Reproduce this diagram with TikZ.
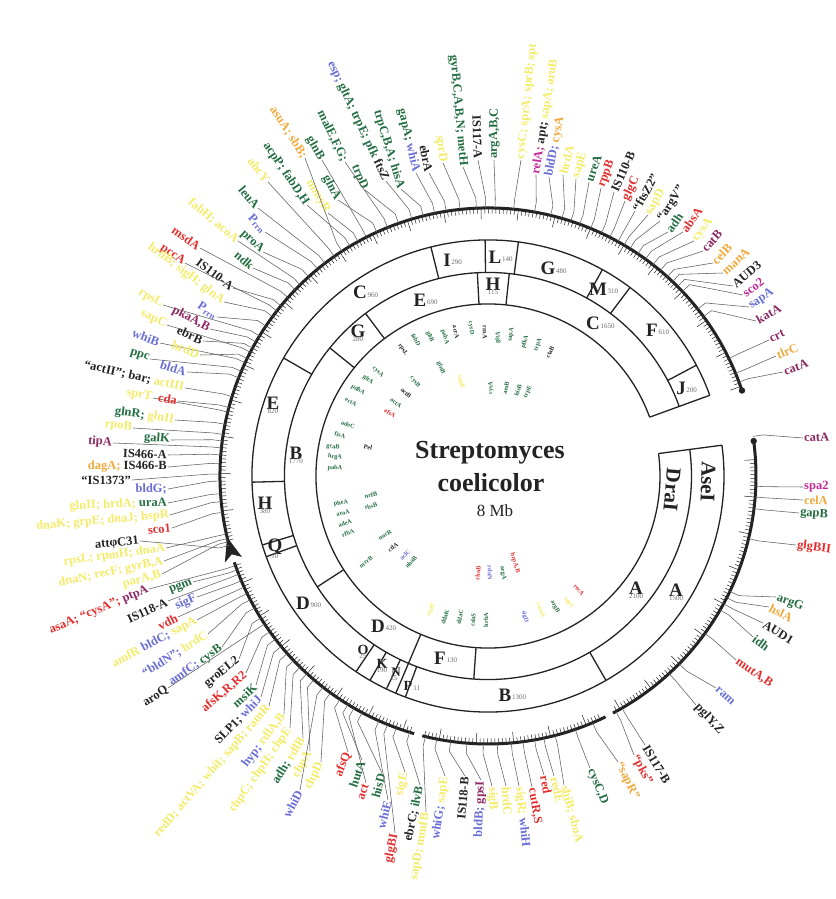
\documentclass[tikz,border=0pt]{standalone}
\usepackage{fontspec}
\setmainfont{Liberation Serif}
\usetikzlibrary{calc}
\definecolor{gg}{RGB}{35,110,65}
\definecolor{gb}{RGB}{105,110,215}
\definecolor{gr}{RGB}{230,45,45}
\definecolor{gp}{RGB}{140,40,100}
\definecolor{gm}{RGB}{195,40,150}
\definecolor{go}{RGB}{240,170,60}
\definecolor{gy}{RGB}{244,236,105}
\definecolor{gk}{RGB}{35,35,35}
\definecolor{gl}{RGB}{95,95,95}
\newcommand\kG[1]{\textcolor{gg}{#1}}
\newcommand\kB[1]{\textcolor{gb}{#1}}
\newcommand\kR[1]{\textcolor{gr}{#1}}
\newcommand\kP[1]{\textcolor{gp}{#1}}
\newcommand\kM[1]{\textcolor{gm}{#1}}
\newcommand\kO[1]{\textcolor{go}{#1}}
\newcommand\kY[1]{\textcolor{gy}{#1}}
\newcounter{gn}
\newcommand\glab[6]{%
 \stepcounter{gn}%
 \node[lbl,rotate=#3,anchor=#4] (g\arabic{gn}) at ({#1-488},{476-#2}) {#6};%
 \coordinate (c\arabic{gn}) at (#5:268);%
 \coordinate (d\arabic{gn}) at (#5:278);%
 \draw[leader] (c\arabic{gn}) -- (d\arabic{gn}) -- (g\arabic{gn}.#4);%
}
\newcommand\RL[6]{%
 \node[rlet] (#1) at ({#2-488},{476-#3}) {#4};%
 \if r#6\node[rnum,anchor=south west] (#1n) at ([xshift=-0.5pt,yshift=1.5pt]#1.south east) {#5};%
 \else\node[rnum,anchor=north] (#1n) at ([yshift=2pt]#1.south) {#5};\fi}
\tikzset{
 lbl/.style={font=\bfseries\fontsize{12.5}{12.5}\selectfont,inner sep=1pt,text=gk},
 leader/.style={draw=gl,line width=0.55pt},
 ring/.style={draw=gk,line width=1.3pt},
 thk/.style={draw=gk,line width=3pt},
 tick/.style={draw=gk,line width=0.5pt},
 rlet/.style={font=\bfseries\fontsize{19}{19}\selectfont,inner sep=0.5pt,text=gk},
 rnum/.style={font=\fontsize{7}{7}\selectfont,inner sep=0.3pt,text=gray!85!black},
 inl/.style={font=\bfseries\fontsize{6.3}{6.5}\selectfont,inner sep=0.4pt},
}
\begin{document}
\begin{tikzpicture}[x=1pt,y=1pt]
\useasboundingbox (-488,-423) rectangle (347,476);
\fill[white] (-488,-423) rectangle (347,476);

% ---------- rings ----------
\draw[ring] (20:236) arc[start angle=20,end angle=367.5,radius=236];
\draw[ring] (20:203.5) arc[start angle=20,end angle=367.5,radius=203.5];
\draw[ring] (20:172) arc[start angle=20,end angle=367.5,radius=172];
\draw[ring] (20:172) -- (20:236);
\draw[ring] (7.5:172) -- (7.5:236);
\foreach \s in {28,53,61,82.6,90.7,104,150,181.5,197,200,236,240,244.5,247,249.5,300}
  \draw[ring] (\s:203.5) -- (\s:236);
\foreach \s in {84,93,127,141,213,247,266}
  \draw[ring] (\s:172) -- (\s:203.5);

% AseI ring labels
\RL{aJ}{681}{388}{J}{200}{r}
\RL{aF}{652}{330}{F}{610}{r}
\RL{aM}{598}{289}{M}{310}{r}
\RL{aG}{548}{268}{G}{480}{r}
\RL{aL}{495}{257}{L}{140}{r}
\RL{aI}{447}{260}{I}{290}{r}
\RL{aC}{360}{292}{C}{960}{r}
\RL{aE}{273}{403}{E}{820}{b}
\RL{aH}{265}{503}{H}{380}{b}
\RL{aQ}{275}{547}{Q}{10}{b}
\RL{aD}{303}{603}{D}{900}{r}
\node[rlet,font=\bfseries\fontsize{14}{14}\selectfont] (aO) at ({363-488},{476-650}) {O};
\node[rnum] (aOn) at ([yshift=-1pt]aO.south) {25};
\node[rlet,font=\bfseries\fontsize{14}{14}\selectfont] (aK) at ({382-488},{476-664}) {K};
\node[rnum] (aKn) at ([yshift=-1pt]aK.south) {190};
\node[rlet,font=\bfseries\fontsize{13}{13}\selectfont] (aN) at ({396-488},{476-672}) {N};
\node[rnum] (aNn) at ([yshift=-1pt,xshift=-2pt]aN.south) {25};
\node[rlet,font=\bfseries\fontsize{14}{14}\selectfont] (aP) at ({408-488},{476-686}) {P};
\node[rnum,anchor=south west] (aPn) at (aP.south east) {11};
\RL{aB}{505}{695}{B}{1300}{r}
\RL{aA}{676}{590}{A}{1500}{b}
% DraI ring labels
\RL{dC}{593}{323}{C}{1650}{r}
\RL{dH}{493}{284}{H}{115}{b}
\RL{dE}{420}{300}{E}{690}{r}
\RL{dG}{358}{331}{G}{280}{b}
\RL{dB}{296}{453}{B}{1770}{b}
\RL{dD}{378}{626}{D}{420}{r}
\RL{dF}{440}{658}{F}{130}{r}
\RL{dA}{636}{588}{A}{2100}{b}
\node[font=\bfseries\fontsize{21}{21}\selectfont,rotate=-92,text=gk] (ase) at ({708-488},{476-482}) {AseI};
\node[font=\bfseries\fontsize{21}{21}\selectfont,rotate=-95,text=gk] (dra) at ({672-488},{476-490}) {DraI};

% ---------- title ----------
\node[font=\bfseries\fontsize{26}{28}\selectfont,text=gk] (t1) at (2,23) {Streptomyces};
\node[font=\bfseries\fontsize{26}{28}\selectfont,text=gk] (t2) at (3,-7) {coelicolor};
\node[font=\fontsize{17}{18}\selectfont,text=gk] (t3) at (7,-35) {8 Mb};

% ---------- inner gene names ----------
\foreach \x/\y/\c/\t [count=\i] in {
 403/350/gk/rpsL,416/340/gg/fabD,430/337/gg/gltB,445/337/gg/pabA,456/332/gk/acrA,
 471/328/gg/cysD,485/332/gk/rrnA,498/338/gg/gltA,511/335/gg/sapA,525/342/gg/pfkA,
 538/345/gg/trpA,550/352/gk/ctaB,441/368/gg/glnB,461/382/gy/sapR,491/388/gg/cysA,
 506/388/gg/aroB,518/390/gg/hisB,528/392/gg/trpE,378/372/gg/cysA,368/380/gg/gltA,
 358/390/gg/pdhA,351/402/gg/ectA,415/382/gg/cysB,406/393/gk/actB,396/403/gg/actA,
 390/413/gr/afsA,348/425/gg/adeC,340/435/gg/fisA,333/447/gg/gcaB,368/447/gk/Pel,
 335/457/gg/hrgA,335/468/gg/pabA,371/495/gg/nrfB,371/506/gg/rbsB,341/503/gg/pheA,
 343/513/gg/aroA,345/523/gg/adeA,348/533/gg/rfbA,385/535/gg/nucR,393/547/gk/ctlA,
 405/555/gb/aclC,411/562/gg/nhaB,366/562/gg/mrrB,478/573/gr/rhoB,490/573/gb/rdnN,
 503/573/gg/argA,515/563/gr/{hrpA,B},431/610/gy/sapB,445/617/gg/ddaK,460/617/gg/ddaC,
 473/620/gg/cdaS,486/620/gg/hrbA,525/617/gb/sigD,541/610/gy/ramS,555/607/gg/argB,
 579/590/gr/recA,569/603/gy/sapC}{
 \pgfmathsetmacro\ph{atan2(476-\y,\x-488)}
 \pgfmathsetmacro\rr{(\x<488) ? \ph+180 : \ph}
 \node[inl,text=\c,rotate=\rr] (in\i) at ({\x-488},{476-\y}) {\t};
}

% ---------- outer thick circle ----------
\draw[thk] (18.6:268) arc[start angle=18.6,end angle=194.5,radius=268];
\draw[thk] (198.8:268) arc[start angle=198.8,end angle=254,radius=268];
\draw[thk] (255.8:268) arc[start angle=255.8,end angle=296,radius=268];
\draw[thk] (297.8:268) arc[start angle=297.8,end angle=367.5,radius=268];
\fill[gk] (18.6:268) circle (3.2);
\fill[gk] (7.5:268) circle (3.2);
\coordinate (att) at (195:268);
\fill[gk] (193.2:268) -- (198.2:277) -- (197:268) -- (198.2:259) -- cycle;
\foreach \i in {0,...,430}{
 \pgfmathsetmacro\ta{19.5+0.8*\i}
 \pgfmathtruncatemacro\ok{(((\ta>194)&&(\ta<199))||((\ta>253.5)&&(\ta<256))||((\ta>295.5)&&(\ta<298))) ? 0 : 1}
 \pgfmathtruncatemacro\lng{(mod(\i,10)==0) ? 1 : 0}
 \ifnum\ok=1
  \ifnum\lng=1 \draw[tick] (\ta:267) -- (\ta:257);
  \else \draw[tick] (\ta:267) -- (\ta:262.5); \fi
 \fi
}

% ---------- gene labels ----------
% right top (reading outward)
\glab{783}{372}{20}{west}{20.5}{\kP{catA}}
\glab{776}{356}{23}{west}{22.5}{\kO{tlrC}}
\glab{769}{340}{26}{west}{26}{\kP{crt}}
\glab{756}{321}{29}{west}{36.5}{\kP{katA}}
\glab{749}{307}{33}{west}{38.5}{\kB{sapA}}
\glab{743}{295}{36}{west}{43.5}{\kM{sco2}}
\glab{733}{286}{40}{west}{45}{AUD3}
\glab{723}{273}{43}{west}{46.5}{\kO{manA}}
\glab{713}{263}{46}{west}{48}{\kO{celB}}
\glab{703}{251}{48}{west}{50}{\kP{catB}}
\glab{694}{241}{51}{west}{52}{\kY{cysA}}
\glab{683}{232}{54}{west}{54}{\kR{absA}}
\glab{668}{232}{55}{west}{56}{\kG{adh}}
\glab{660}{221}{57}{west}{58}{``argV''}
\glab{648}{215}{59}{west}{59.5}{\kY{sapD}}
\glab{635}{211}{61}{west}{61}{``ftsZ2''}
\glab{625}{201}{64}{west}{63}{\kR{glgC}}
\glab{614}{192}{66}{west}{65}{IS110-B}
\glab{601}{188}{69}{west}{67.5}{\kR{rppB}}
\glab{589}{182}{71}{west}{70}{\kG{ureA}}
\glab{576}{179}{74}{west}{72}{\kY{sapE}}
\glab{563}{175}{76}{west}{74}{\kY{hrdA}}
\glab{549}{177}{79}{west}{76.5}{\kB{bldD;} \kO{cysA}}
\glab{536}{175}{81}{west}{80}{\kM{relA;} apt; \kY{sapA; aroB}}
\glab{521}{160}{84}{west}{84.5}{\kY{cysC; sprA; sprB; spt}}
\glab{494}{160}{89}{west}{88.5}{\kG{argA,B,C}}
% top left (reading inward)
\glab{478}{160}{-88}{east}{90.5}{IS117-A}
\glab{463}{167}{-85}{east}{92.5}{\kG{gyrB,C,A,B,N; metH}}
\glab{443}{163}{-82}{east}{96}{\kY{sprD}}
\glab{429}{173}{-79}{east}{99}{ebrA}
\glab{416}{173}{-77}{east}{101.5}{\kG{gapA;} \kB{whiA}}
\glab{401}{189}{-73}{east}{104}{\kG{trpC,B,A; hisA}}
\glab{386}{181}{-65}{east}{106.5}{\kB{esp;} \kG{gltA; trpE; pfk} ftsZ}
\glab{365}{190}{-67}{east}{109.5}{\kG{trpD}}
\glab{345}{162}{-64}{east}{112}{\kG{malE,F,G;}}
\glab{338}{200}{-62}{east}{114.5}{\kG{glnA}}
\glab{322}{160}{-60}{east}{117}{\kG{glnB}}
\glab{328}{213}{-59}{east}{119}{\kY{mmyR}}
\glab{307}{205}{-56}{east}{121}{\kG{acpP; fabD,H}}
\glab{305}{158}{-57}{east}{123}{\kO{asuA; sbB;}}
\glab{268}{182}{-53}{east}{125}{\kY{ahcY}}
\glab{258}{208}{-50}{east}{127.5}{\kG{leuA}}
\glab{265}{232}{-47}{east}{129.5}{\kB{P\textsubscript{rrn}}}
\glab{263}{252}{-44}{east}{132}{\kG{proA}}
\glab{238}{241}{-40}{east}{134.5}{\kY{fabH; acoA}}
\glab{253}{268}{-41}{east}{136}{\kG{ndk}}
\glab{200}{248}{-35}{east}{138.3}{\kR{msdA}}
\glab{233}{288}{-37}{east}{140.6}{IS110-A}
\glab{185}{263}{-34}{east}{142}{\kR{pccA}}
\glab{224}{302}{-37}{east}{143.5}{\kY{hrdB; sigH; glnA}}
\glab{217}{317}{-34}{east}{146}{\kB{P\textsubscript{rrn}}}
\glab{163}{305}{-28}{east}{148.5}{\kY{rpsL}}
\glab{210}{329}{-28}{east}{150}{\kP{pkaA,B}}
\glab{167}{325}{-25}{east}{152.5}{\kY{sapC}}
\glab{203}{341}{-24}{east}{151.5}{ebrB}
\glab{160}{343}{-21}{east}{155}{\kB{whiB}}
\glab{200}{355}{-21}{east}{154}{\kY{hrdD}}
\glab{150}{359}{-17}{east}{157}{\kG{ppc}}
\glab{187}{372}{-17}{east}{158.5}{\kB{bldA}}
\glab{185}{388}{-13}{east}{162.8}{``actII''; bar; \kY{actIII}}
\glab{153}{398}{-11}{east}{166.2}{\kY{sprT}}
\glab{178}{401}{-11}{east}{165.2}{\kR{cda}}
\glab{175}{420}{-8}{east}{168.9}{\kG{glnR;} \kY{glnII}}
\glab{133}{428}{-7}{east}{171.1}{\kY{rpoB}}
\glab{171}{440}{-5}{east}{172.5}{\kG{galK}}
\glab{113}{443}{-4}{east}{174}{\kP{tipA}}
\glab{168}{455}{-2}{east}{175.5}{IS466-A}
\glab{168}{467}{0}{east}{177.4}{\kO{dagA;} IS466-B}
\glab{132}{480}{0}{east}{179.6}{``IS1373''}
\glab{168}{489}{1}{east}{181.1}{\kB{bldG;}}
\glab{168}{503}{2}{east}{183.8}{\kY{glnII; hrdA;} \kG{uraA}}
\glab{170}{515}{5}{east}{185.5}{\kY{dnaK; grpE; dnaJ; hspR}}
\glab{172}{528}{5}{east}{187.8}{\kR{sco1}}
\glab{140}{541}{6}{east}{195}{attφC31}
\glab{166}{548}{8}{east}{192.5}{\kY{rpsL; rpmH; dnaA}}
\glab{164}{561}{12}{east}{193.5}{\kY{dnaN; recF; gyrB,A}}
\glab{162}{574}{16}{east}{194.2}{\kY{parA,B}}
\glab{149}{589}{23}{east}{199.5}{\kR{asaA; ``cysA'';} \kP{ptpA}}
\glab{193}{582}{22}{east}{200.5}{\kG{pgm}}
\glab{168}{601}{25}{east}{201.5}{IS118-A}
\glab{197}{597}{25}{east}{203}{\kB{sigF}}
\glab{178}{617}{26}{east}{204.5}{\kR{vdh}}
\glab{197}{620}{28}{east}{206}{\kY{amfR} \kB{bldC;} \kY{sapA}}
\glab{208}{634}{32}{east}{207.5}{\kB{``bldN'';} \kY{hrdC}}
\glab{222}{647}{35}{east}{209.5}{\kB{amfC;} \kG{cysB}}
\glab{239}{659}{38}{east}{212}{groEL2}
\glab{168}{688}{34}{east}{213.5}{aroQ}
\glab{246}{673}{41}{east}{215.5}{\kR{afsK,R,R2}}
\glab{256}{685}{43}{east}{217.5}{\kG{msiK}}
\glab{261}{697}{46}{east}{219.5}{SLP1; \kB{whiJ}}
\glab{269}{706}{49}{east}{221.5}{\kY{redD; actVA; whiI; sapB; ramR}}
\glab{284}{714}{53}{east}{223.5}{\kB{hyp;} \kY{rdlA,B}}
\glab{290}{728}{55}{east}{225.5}{\kY{chpC; chpH; chpE}}
\glab{303}{738}{58}{east}{227.5}{\kG{adh;} \kY{rdlB}}
\glab{310}{751}{60}{east}{229.5}{\kY{chpA}}
\glab{300}{790}{62}{east}{232}{\kB{whiD}}
\glab{321}{762}{64}{east}{234}{\kY{chpD}}
\glab{348}{752}{68}{east}{236.5}{\kR{afsQ}}
\glab{362}{760}{71}{east}{238.5}{\kG{hutA}}
\glab{366}{783}{72}{east}{240}{\kR{act}}
\glab{382}{773}{75}{east}{242}{\kG{hisD}}
\glab{388}{800}{76}{east}{246}{\kB{whiE}}
\glab{395}{833}{78}{east}{248}{\kR{glgBI}}
\glab{405}{772}{77}{east}{250}{\kY{sigE}}
\glab{420}{785}{78}{east}{253}{ebrC; \kG{ilvB}}
\glab{426}{812}{80}{east}{256.5}{\kY{sapD; mmfB}}
\glab{445}{776}{82}{east}{259}{\kB{whiG;} \kY{sapE}}
\glab{465}{776}{85}{east}{262}{IS118-B}
\glab{481}{780}{88}{east}{265.5}{\kB{bldB;} \kP{gpsI}}
% bottom right (reading outward)
\glab{492}{786}{-88}{west}{269}{\kY{sigB}}
\glab{506}{786}{-86}{west}{272}{\kY{hrdC}}
\glab{519}{786}{-84}{west}{275}{\kY{sigR;} \kB{whiH}}
\glab{532}{787}{-81}{west}{277.5}{\kR{cutR,S}}
\glab{544}{775}{-79}{west}{280}{\kR{red}}
\glab{554}{776}{-77}{west}{282}{\kY{redE}}
\glab{564}{785}{-75}{west}{284.5}{\kY{shiB; sboA}}
\glab{590}{768}{-68}{west}{289}{\kG{cysC,D}}
\glab{618}{762}{-64}{west}{293}{\kO{``sapR''}}
\glab{634}{755}{-62}{west}{298.5}{\kR{``pks''}}
\glab{645}{745}{-59}{west}{300}{IS117-B}
\glab{696}{705}{-47}{west}{312.5}{pglY,Z}
\glab{716}{688}{-42}{west}{315.5}{\kB{ram}}
\glab{736}{660}{-35}{west}{324}{\kR{mutA,B}}
\glab{753}{637}{-36}{west}{330}{\kG{idh}}
\glab{763}{623}{-32}{west}{331.5}{AUD1}
\glab{769}{607}{-27}{west}{333}{\kO{hslA}}
\glab{776}{597}{-22}{west}{334.5}{\kG{argG}}
\glab{796}{545}{-8}{west}{346.5}{\kR{glgBII}}
\glab{799}{513}{-4}{west}{353}{\kG{gapB}}
\glab{803}{500}{-2}{west}{355.5}{\kO{celA}}
\glab{803}{487}{0}{west}{357.8}{\kM{spa2}}
\glab{803}{438}{3}{west}{8.5}{\kP{catA}}
\end{tikzpicture}
\end{document}
